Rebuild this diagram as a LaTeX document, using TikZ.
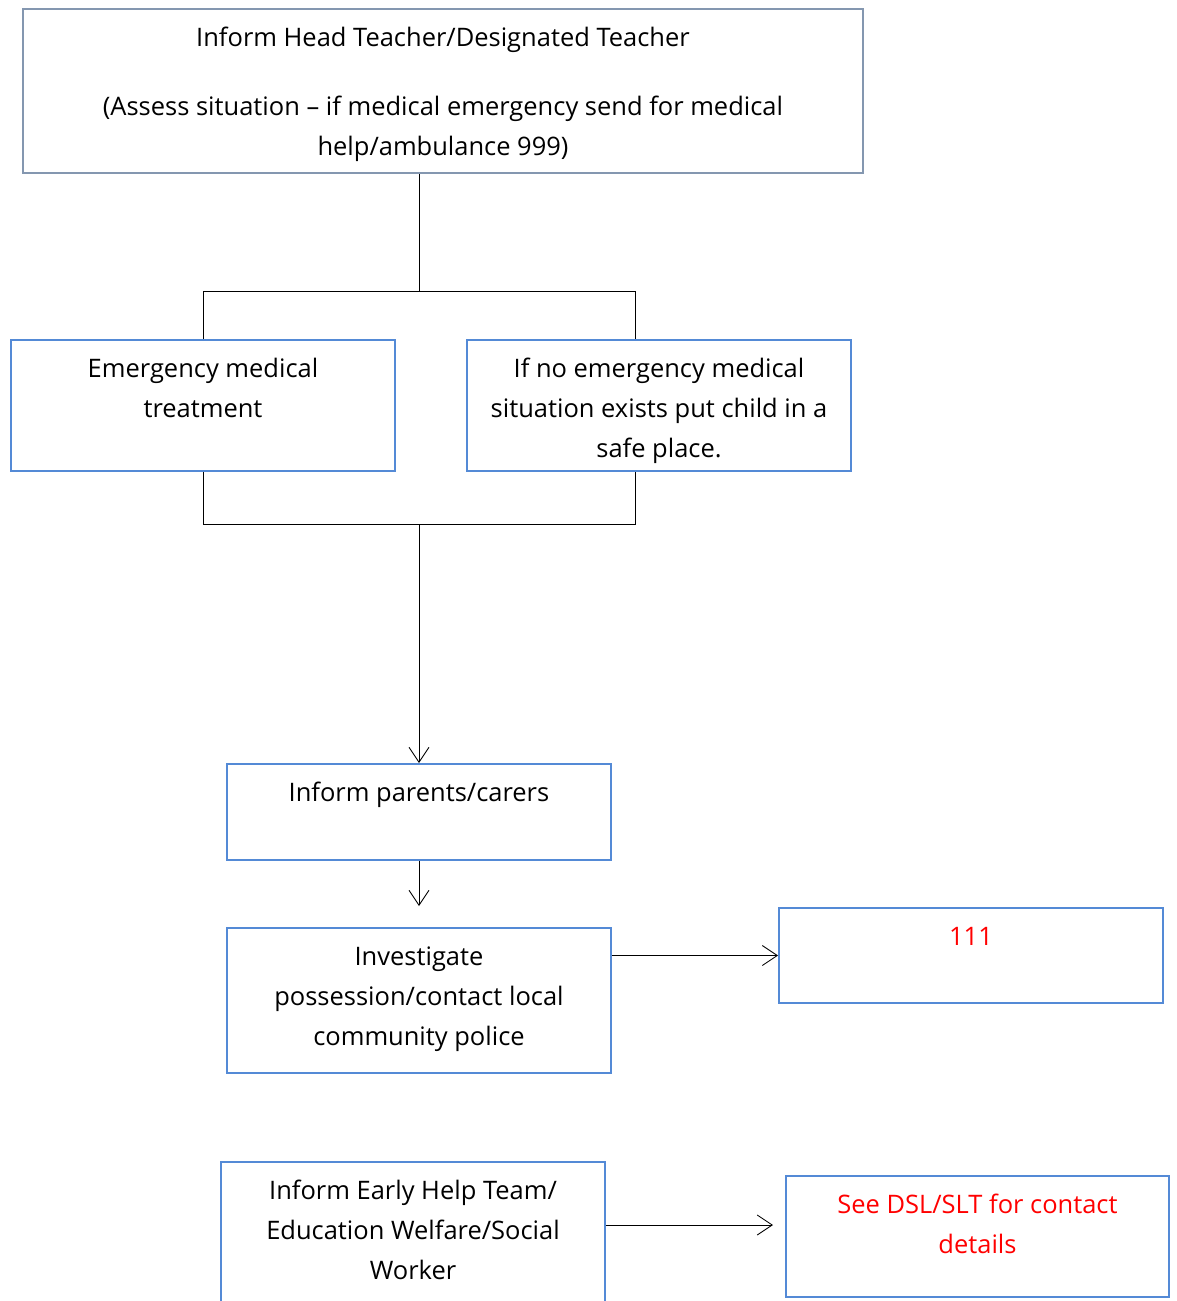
\documentclass[tikz,border=0pt]{standalone}
\usepackage{fontspec}
\setmainfont{Open Sans}
\usetikzlibrary{arrows.meta}
\definecolor{topblue}{RGB}{132,151,176}
\definecolor{boxblue}{RGB}{84,138,214}
\definecolor{notered}{RGB}{255,0,0}
% box body: width, height, text (top aligned)
\newcommand{\boxtext}[3]{\parbox[c][#2][t]{#1}{\centering\rule{0pt}{0.74cm}#3}}

\begin{document}
\begin{tikzpicture}[x=0.02cm, y=-0.02cm,
  every node/.style={font=\fontsize{14.5}{22.8}\selectfont},
  box/.style={draw=boxblue, line width=1.1pt, inner sep=0pt},
  link/.style={line width=0.5pt},
  >={Straight Barb[length=0.3cm, width=0.4cm]}]
\clip (0,0) rectangle (1176,1301);

% boxes
\node[box, draw=topblue] (head) at (443,91) {\boxtext{16.8cm}{3.28cm}{Inform Head Teacher/Designated Teacher\\[0.58cm](Assess situation -- if medical emergency send for medical\\help/ambulance 999)}};
\node[box] (emerg) at (203,405.5) {\boxtext{7.68cm}{2.62cm}{Emergency medical\\treatment}};
\node[box] (nomed) at (659,405.5) {\boxtext{7.68cm}{2.62cm}{If no emergency medical\\situation exists put child in a\\safe place.}};
\node[box] (parents) at (419,812) {\boxtext{7.68cm}{1.92cm}{Inform parents/carers}};
\node[box] (invest) at (419,1000.5) {\boxtext{7.68cm}{2.9cm}{Investigate\\possession/contact local\\community police}};
\node[box] (hotline) at (971,955.5) {\boxtext{7.68cm}{1.9cm}{\color{notered}111}};
\node[box] (early) at (413,1242) {\boxtext{7.68cm}{3.2cm}{Inform Early Help Team/\\Education Welfare/Social\\Worker}};
\node[box] (dsl) at (977.5,1236.5) {\boxtext{7.66cm}{2.42cm}{\color{notered}See DSL/SLT for contact\\details}};

% split and merge
\coordinate (split) at (419,291);
\coordinate (jl) at (203,291);
\coordinate (jr) at (635,291);
\draw[link] (head.south -| split) -- (split);
\draw[link] (jl |- emerg.north) -- (jl) -- (jr) -- (jr |- nomed.north);
\coordinate (merge) at (419,524);
\coordinate (ml) at (203,524);
\coordinate (mr) at (635,524);
\draw[link] (emerg.south -| ml) -- (ml) -- (mr) -- (nomed.south -| mr);

% arrows
\draw[link,->] (merge) -- (parents.north);
\draw[link,->,shorten >=0.42cm] (parents.south) -- (invest.north);
\draw[link,->] (invest.east |- hotline.west) -- (hotline.west);
\coordinate (dslin) at (786,1225);
\draw[link,->,shorten >=0.26cm] (early.east |- dslin) -- (dslin);
\end{tikzpicture}
\end{document}
